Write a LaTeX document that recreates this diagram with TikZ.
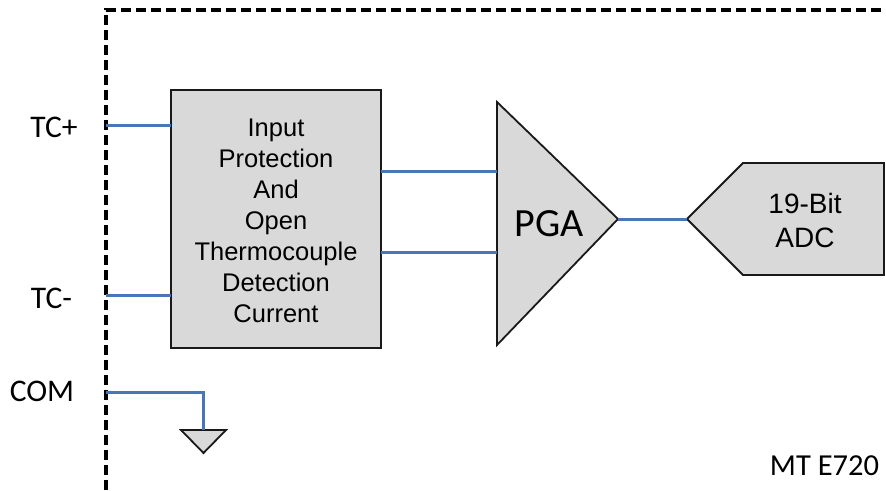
\documentclass[tikz,border=0pt]{standalone}
\usepackage{fontspec}
\setmainfont{Liberation Sans}
\newfontfamily\cali{Carlito}
\definecolor{wireblue}{RGB}{72,118,184}
\definecolor{fillgray}{RGB}{217,217,217}
\tikzset{
  wire/.style={draw=wireblue,line width=3pt},
  blockshape/.style={draw=black!90,fill=fillgray,line width=1.8pt,line join=miter},
  pinlabel/.style={font=\cali\fontsize{31.5}{36}\selectfont,text=black,inner sep=0pt},
  blocktext/.style={font=\fontsize{25.5}{31}\selectfont,align=center,text=black,inner sep=0pt},
  adctext/.style={font=\fontsize{28}{34}\selectfont,align=center,text=black,inner sep=0pt},
  boundary/.style={draw=black,line width=3.1pt,dash pattern=on 10pt off 5pt}
}
\begin{document}
\begin{tikzpicture}[x=1pt,y=-1pt]
\useasboundingbox (0,0) rectangle (886,490);
% boundary
\coordinate (bb) at (106,490);
\coordinate (bc) at (106,10);
\coordinate (be) at (886,10);
\draw[boundary] (bb) -- (bc) -- (be);
% pins
\coordinate (tcp) at (106,125);
\coordinate (tcm) at (106,295);
\coordinate (com) at (106,392);
\coordinate (comc) at (203.5,392);
\node[pinlabel] (ltcp) at (54,127) {TC+};
\node[pinlabel] (ltcm) at (51.5,298) {TC-};
\node[pinlabel] (lcom) at (42,391.5) {COM};
% blocks
\node[blockshape,minimum width=210pt,minimum height=258pt,inner sep=0pt,outer sep=0pt,anchor=north west] (prot) at (171,90) {};
\node[blocktext] (prottext) at (276,221) {Input\\Protection\\And\\Open\\Thermocouple\\Detection\\Current};
% PGA
\coordinate (pa) at (497,102);
\coordinate (pb) at (497,345);
\coordinate (pc) at (618,219);
\draw[blockshape] (pa) -- (pc) -- (pb) -- cycle;
\node[font=\cali\fontsize{40}{46}\selectfont,inner sep=0pt] (pgat) at (549,224) {PGA};
% ADC
\coordinate (aa) at (687,219);
\coordinate (ab) at (743,163);
\coordinate (ac) at (884,163);
\coordinate (ad) at (884,275);
\coordinate (ae) at (743,275);
\draw[blockshape] (aa) -- (ab) -- (ac) -- (ad) -- (ae) -- cycle;
\node[adctext] (adct) at (805,220) {19-Bit\\ADC};
% ground
\coordinate (ga) at (181,430);
\coordinate (gb) at (226,430);
\coordinate (gc) at (203.5,453);
\draw[blockshape] (ga) -- (gb) -- (gc) -- cycle;
\coordinate (gtop) at (203.5,430);
% wires
\draw[wire] (tcp) -- (prot.west |- tcp);
\draw[wire] (tcm) -- (prot.west |- tcm);
\draw[wire] (prot.east |- 0,171) -- (497,171);
\draw[wire] (prot.east |- 0,252) -- (497,252);
\draw[wire] (pc) -- (aa);
\draw[wire] (com) -- (comc) -- (gtop);
\node[font=\cali\fontsize{30.5}{35}\selectfont,inner sep=0pt] (mt) at (824.5,466) {MT E720};
\end{tikzpicture}
\end{document}
